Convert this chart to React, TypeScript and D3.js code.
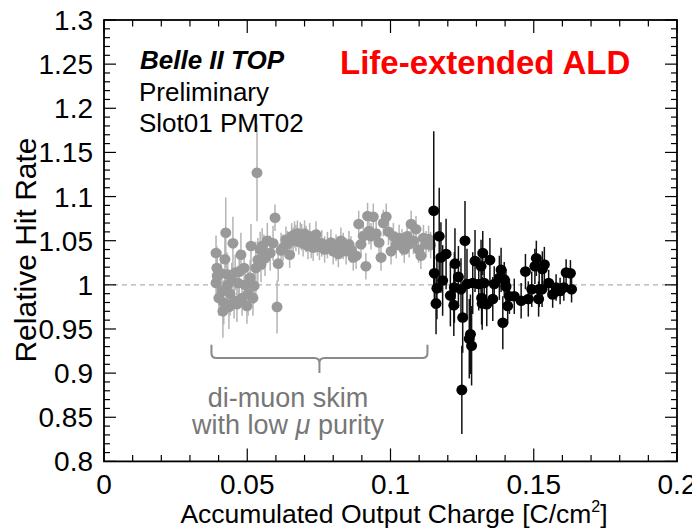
import React from 'react';
import * as d3 from 'd3';

const xTickValues = [0, 0.05, 0.1, 0.15, 0.2];
const xTickLabels = ['0', '0.05', '0.1', '0.15', '0.2'];
const yTickValues = [0.8, 0.85, 0.9, 0.95, 1.0, 1.05, 1.1, 1.15, 1.2, 1.25, 1.3];
const yTickLabels = ['0.8', '0.85', '0.9', '0.95', '1', '1.05', '1.1', '1.15', '1.2', '1.25', '1.3'];

const grayX = [
  0.0391, 0.0394, 0.0391, 0.0395, 0.0401, 0.0408, 0.0412, 0.0415, 0.0418, 0.0422,
  0.0425, 0.0429, 0.0432, 0.0436, 0.0440, 0.0446, 0.0450, 0.0454, 0.0458, 0.0464,
  0.0468, 0.0472, 0.0478, 0.0482, 0.0489, 0.0492, 0.0499, 0.0503, 0.0510, 0.0513,
  0.0520, 0.0524, 0.0530, 0.0534, 0.0537, 0.0545, 0.0548, 0.0552, 0.0558, 0.0562,
  0.0570, 0.0580, 0.0597, 0.0590, 0.0604, 0.0608, 0.0618, 0.0625, 0.0635, 0.0640,
  0.0648, 0.0655, 0.0660, 0.0665, 0.0670, 0.0675, 0.0680, 0.0685, 0.0690, 0.0695,
  0.0700, 0.0705, 0.0712, 0.0718, 0.0723, 0.0730, 0.0740, 0.0745, 0.0752, 0.0760,
  0.0770, 0.0780, 0.0792, 0.0800, 0.0810, 0.0818, 0.0827, 0.0835, 0.0845, 0.0855,
  0.0862, 0.0870, 0.0880, 0.0889, 0.0897, 0.0905, 0.0914, 0.0920, 0.0925, 0.0932,
  0.0940, 0.0950, 0.0960, 0.0967, 0.0975, 0.0985, 0.0993, 0.1002, 0.1010, 0.1020,
  0.1030, 0.1040, 0.1048, 0.1058, 0.1065, 0.1072, 0.1080, 0.1089, 0.1098, 0.1106,
  0.1115, 0.1124, 0.1133, 0.1140,
];
const grayY = [
  1.036, 1.019, 1.002, 1.010, 0.985, 1.013, 0.993, 0.970, 0.980, 1.029,
  1.059, 1.012, 1.000, 0.975, 0.990, 1.005, 1.047, 0.982, 1.014, 0.978,
  1.002, 1.015, 1.034, 0.985, 1.019, 1.000, 0.976, 0.990, 1.008, 1.044,
  0.985, 0.999, 1.019, 1.127, 1.028, 1.040, 1.023, 1.044, 1.037, 1.030,
  1.050, 1.036, 1.076, 1.047, 0.975, 1.024, 1.039, 1.042, 1.051, 1.046,
  1.034, 1.055, 1.050, 1.057, 1.053, 1.058, 1.049, 1.056, 1.054, 1.047,
  1.058, 1.052, 1.044, 1.055, 1.045, 1.042, 1.057, 1.048, 1.043, 1.047,
  1.040, 1.045, 1.048, 1.038, 1.042, 1.035, 1.050, 1.044, 1.038, 1.046,
  1.040, 1.031, 1.033, 1.069, 1.046, 1.055, 1.021, 1.078, 1.061, 1.055,
  1.077, 1.058, 1.048, 1.031, 1.070, 1.077, 1.060, 1.038, 1.055, 1.045,
  1.053, 1.048, 1.040, 1.055, 1.046, 1.069, 1.050, 1.063, 1.040, 1.033,
  1.053, 1.046, 1.052, 1.045,
];
const grayErr = [
  0.020, 0.025, 0.020, 0.020, 0.020, 0.025, 0.020, 0.030, 0.025, 0.030,
  0.040, 0.025, 0.025, 0.025, 0.025, 0.020, 0.030, 0.020, 0.020, 0.020,
  0.020, 0.025, 0.025, 0.020, 0.020, 0.020, 0.020, 0.025, 0.020, 0.025,
  0.020, 0.020, 0.030, 0.055, 0.025, 0.020, 0.020, 0.020, 0.020, 0.020,
  0.020, 0.020, 0.015, 0.020, 0.030, 0.020, 0.020, 0.015, 0.015, 0.015,
  0.015, 0.015, 0.015, 0.015, 0.015, 0.015, 0.015, 0.015, 0.015, 0.015,
  0.015, 0.015, 0.015, 0.015, 0.015, 0.015, 0.015, 0.015, 0.015, 0.015,
  0.015, 0.015, 0.015, 0.015, 0.015, 0.015, 0.015, 0.015, 0.015, 0.015,
  0.015, 0.015, 0.015, 0.015, 0.015, 0.015, 0.015, 0.015, 0.015, 0.015,
  0.015, 0.015, 0.015, 0.015, 0.015, 0.015, 0.015, 0.015, 0.015, 0.015,
  0.015, 0.015, 0.015, 0.015, 0.015, 0.015, 0.015, 0.015, 0.015, 0.015,
  0.015, 0.015, 0.015, 0.015,
];

const blackX = [
  0.1151, 0.1153, 0.1159, 0.1162, 0.1170, 0.1176, 0.1182, 0.1194, 0.1209, 0.1221,
  0.1223, 0.1225, 0.1237, 0.1246, 0.1249, 0.1252, 0.1260, 0.1267, 0.1275, 0.1279,
  0.1283, 0.1287, 0.1295, 0.1308, 0.1316, 0.1318, 0.1320, 0.1322, 0.1327, 0.1336,
  0.1347, 0.1357, 0.1362, 0.1380, 0.1386, 0.1392, 0.1397, 0.1403, 0.1409, 0.1415,
  0.1432, 0.1456, 0.1471, 0.1481, 0.1493, 0.1504, 0.1509, 0.1517, 0.1519, 0.1529,
  0.1530, 0.1537, 0.1552, 0.1566, 0.1578, 0.1592, 0.1605, 0.1613, 0.1628, 0.1632,
];
const blackY = [
  1.084, 1.013, 0.979, 0.996, 1.055, 1.031, 1.005, 1.035, 0.988, 0.977,
  0.997, 1.024, 1.009, 0.995, 0.881, 0.963, 1.050, 1.001, 0.939, 0.944,
  0.931, 1.002, 1.027, 1.001, 1.021, 0.985, 0.979, 1.036, 1.002, 0.978,
  1.028, 0.984, 1.001, 1.008, 1.017, 0.957, 1.006, 0.998, 0.976, 0.987,
  0.987, 0.982, 1.015, 0.984, 0.995, 1.021, 1.030, 0.984, 0.995, 0.995,
  1.018, 1.023, 1.002, 0.989, 0.997, 0.993, 0.997, 1.014, 1.013, 0.995,
];
const blackErr = [
  0.090, 0.040, 0.035, 0.035, 0.055, 0.040, 0.040, 0.040, 0.035, 0.035,
  0.040, 0.040, 0.035, 0.035, 0.050, 0.040, 0.045, 0.040, 0.045, 0.045,
  0.045, 0.035, 0.035, 0.030, 0.030, 0.030, 0.030, 0.025, 0.025, 0.025,
  0.025, 0.025, 0.020, 0.025, 0.025, 0.030, 0.020, 0.020, 0.020, 0.020,
  0.020, 0.020, 0.020, 0.020, 0.020, 0.020, 0.020, 0.020, 0.020, 0.020,
  0.020, 0.020, 0.015, 0.015, 0.015, 0.015, 0.015, 0.015, 0.015, 0.015,
];

// annotation bracket in data units
const bracketX = [0.0375, 0.1129];
const bracketY = [0.932, 0.917, 0.900];

const W = 692;
const H = 528;
const L = 104;
const R = 677;
const T = 20;
const B = 461.4;
const FONT = "'Liberation Sans', Arial, Helvetica, sans-serif";

export default function App() {
  const x = d3.scaleLinear().domain([0, 0.2]).range([L, R]);
  const y = d3.scaleLinear().domain([0.8, 1.3]).range([B, T]);

  const xMinor = d3.range(0, 0.2001, 0.01);
  const yMinor = d3.range(0.8, 1.3001, 0.01);

  const gray = grayX.map((v, i) => ({ x: v, y: grayY[i], e: grayErr[i] }));
  const black = blackX.map((v, i) => ({ x: v, y: blackY[i], e: blackErr[i] }));

  const bx0 = x(bracketX[0]);
  const bx1 = x(bracketX[1]);
  const bxm = (bx0 + bx1) / 2;
  const byTop = y(bracketY[0]);
  const byMid = y(bracketY[1]);
  const byBot = y(bracketY[2]);
  const rr = 5;
  const bp = d3.path();
  bp.moveTo(bx0, byTop);
  bp.lineTo(bx0, byMid - rr);
  bp.quadraticCurveTo(bx0, byMid, bx0 + rr, byMid);
  bp.lineTo(bxm - rr, byMid);
  bp.quadraticCurveTo(bxm, byMid, bxm, byMid + rr);
  bp.lineTo(bxm, byBot);
  bp.moveTo(bxm, byMid + rr);
  bp.quadraticCurveTo(bxm, byMid, bxm + rr, byMid);
  bp.lineTo(bx1 - rr, byMid);
  bp.quadraticCurveTo(bx1, byMid, bx1, byMid - rr);
  bp.lineTo(bx1, byTop);

  return (
    <svg
      width={W}
      height={H}
      style={{ position: 'absolute', left: 0, top: 0, background: '#fff' }}
      fontFamily={FONT}
    >
      <rect x={0} y={0} width={W} height={H} fill="#fff" />
      <line x1={L} x2={R} y1={y(1)} y2={y(1)} stroke="#b0b0b0" strokeWidth={1.2} strokeDasharray="5,4" />

      <g>
        {gray.map((d, i) => (
          <line key={'ge' + i} x1={x(d.x)} x2={x(d.x)} y1={y(d.y - d.e)} y2={y(d.y + d.e)} stroke="#b4b4b4" strokeWidth={1.5} />
        ))}
        {gray.map((d, i) => (
          <ellipse key={'gp' + i} cx={x(d.x)} cy={y(d.y)} rx={5.5} ry={5.3} fill="#999999" />
        ))}
      </g>
      <g>
        {black.map((d, i) => (
          <line key={'be' + i} x1={x(d.x)} x2={x(d.x)} y1={y(d.y - d.e)} y2={y(d.y + d.e)} stroke="#111" strokeWidth={1.5} />
        ))}
        {black.map((d, i) => (
          <ellipse key={'bp' + i} cx={x(d.x)} cy={y(d.y)} rx={5.5} ry={5.3} fill="#000" />
        ))}
      </g>

      {/* frame */}
      <rect x={L} y={T} width={R - L} height={B - T} fill="none" stroke="#000" strokeWidth={1.8} />

      {/* x ticks */}
      {xMinor.map((v, i) => {
        const major = i % 5 === 0;
        const len = major ? 13 : 6.5;
        return (
          <g key={'xt' + i}>
            <line x1={x(v)} x2={x(v)} y1={B} y2={B - len} stroke="#000" strokeWidth={1.2} />
            <line x1={x(v)} x2={x(v)} y1={T} y2={T + len} stroke="#000" strokeWidth={1.2} />
          </g>
        );
      })}
      {/* y ticks */}
      {yMinor.map((v, i) => {
        const major = i % 5 === 0;
        const len = major ? 12 : 6;
        return (
          <g key={'yt' + i}>
            <line x1={L} x2={L + len} y1={y(v)} y2={y(v)} stroke="#000" strokeWidth={1.2} />
            <line x1={R} x2={R - len} y1={y(v)} y2={y(v)} stroke="#000" strokeWidth={1.2} />
          </g>
        );
      })}

      {/* tick labels */}
      {xTickValues.map((v, i) => (
        <text key={'xl' + i} x={x(v)} y={494} textAnchor="middle" fontSize={28} fill="#000">
          {xTickLabels[i]}
        </text>
      ))}
      {yTickValues.map((v, i) => (
        <text key={'yl' + i} x={93} y={y(v) + 10} textAnchor="end" fontSize={28} fill="#000">
          {yTickLabels[i]}
        </text>
      ))}

      {/* axis titles */}
      <text x={394} y={523} textAnchor="middle" fontSize={26.5} fill="#000">
        Accumulated Output Charge [C/cm
        <tspan dy={-11} fontSize={16}>2</tspan>
        <tspan dy={11}>]</tspan>
      </text>
      <text transform={`translate(36, 250) rotate(-90)`} textAnchor="middle" fontSize={30} fill="#000">
        Relative Hit Rate
      </text>

      {/* labels */}
      <text x={140} y={69} fontSize={26} fontWeight="bold" fontStyle="italic" fill="#000">Belle II TOP</text>
      <text x={139} y={101} fontSize={26} fill="#000">Preliminary</text>
      <text x={139} y={132} fontSize={26} fill="#000">Slot01 PMT02</text>
      <text x={340} y={74} fontSize={33} fontWeight="bold" fill="#ff0000">Life-extended ALD</text>

      {/* bracket annotation */}
      <path d={bp.toString()} fill="none" stroke="#8a8a8a" strokeWidth={2} />
      <text x={288} y={407} textAnchor="middle" fontSize={27} fill="#777">di-muon skim</text>
      <text x={288} y={434} textAnchor="middle" fontSize={27} fill="#777">
        with low <tspan fontStyle="italic">μ</tspan> purity
      </text>
    </svg>
  );
}
